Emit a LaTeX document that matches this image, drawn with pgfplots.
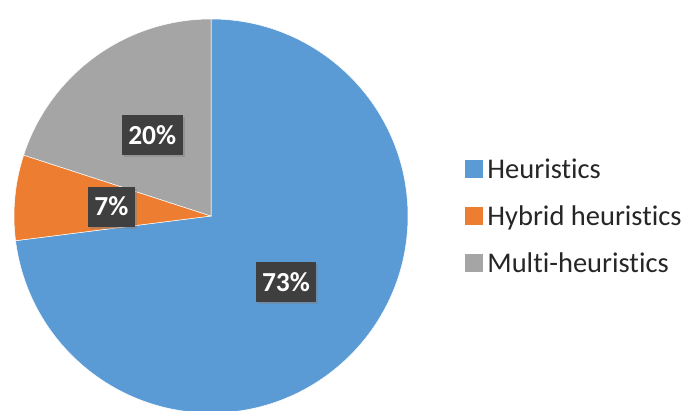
\documentclass[border=0pt]{standalone}
\usepackage{pgfplots}
\usepackage{pgfplotstable}
\usepackage{fontspec}
\setmainfont{Carlito}[Ligatures={NoCommon}]
\pgfplotsset{compat=1.18}
\usetikzlibrary{shadows}
\definecolor{cHeur}{HTML}{5B9BD5}
\definecolor{cHyb}{HTML}{ED7D31}
\definecolor{cMulti}{HTML}{A5A5A5}
\definecolor{lbl}{HTML}{3F3F3F}
\definecolor{legtext}{HTML}{262626}
\pgfplotstableread{
name value
Heuristics 73
Hybrid 7
Multi 20
}\piedata
\begin{document}
\begin{tikzpicture}
\begin{axis}[
  x=1pt, y=1pt,
  xmin=0, xmax=686, ymin=0, ymax=410,
  hide axis, clip mode=global, clip=true,
  legend style={at={(axis cs:465,250)}, anchor=north west, draw=none, fill=none,
    inner sep=0pt, outer sep=0pt, font=\fontsize{28.5}{28.5}\selectfont, text=legtext,
    /tikz/column sep=5pt, /tikz/row sep=0pt,
    nodes={inner sep=0pt, text height=19pt, text depth=28pt}},
  legend cell align=left,
  legend image code/.code={\fill[#1] (0pt,6pt) rectangle (17pt,23pt);},
]
\addlegendimage{cHeur}
\addlegendentry{Heuristics}
\addlegendimage{cHyb}
\addlegendentry{Hybrid heuristics}
\addlegendimage{cMulti}
\addlegendentry{Multi-heuristics}
\pgfplotsextra{
  \def\cx{211}\def\cy{194}
  \def\cum{0}
  \pgfplotsforeachungrouped \i/\col in {0/cHeur,1/cHyb,2/cMulti}{%
    \pgfplotstablegetelem{\i}{value}\of\piedata
    \let\v\pgfplotsretval
    \pgfmathsetmacro\a{90-3.6*\cum}%
    \pgfmathsetmacro\b{90-3.6*(\cum+\v)}%
    \fill[\col, draw=white, line width=0.5pt] (axis cs:\cx,\cy) -- ++(\a:197pt) arc[start angle=\a, end angle=\b, radius=197pt] -- cycle;
    \pgfmathsetmacro\cum{\cum+\v}%
  }
  \def\cum{0}
  \pgfplotsforeachungrouped \i in {0,1,2}{%
    \pgfplotstablegetelem{\i}{value}\of\piedata
    \let\v\pgfplotsretval
    \pgfmathsetmacro\m{90-3.6*(\cum+\v/2)}%
    \path (axis cs:\cx,\cy) ++(\m:100pt) node[fill=lbl, text=white,
      font=\bfseries\fontsize{27.5}{27.5}\selectfont, inner xsep=6.5pt, inner ysep=0pt,
      minimum height=40pt,
      drop shadow={opacity=0.45, shadow xshift=2pt, shadow yshift=-2pt}] {\v\%};
    \pgfmathsetmacro\cum{\cum+\v}%
  }
}
\end{axis}
\pgfresetboundingbox
\useasboundingbox (0,0) rectangle (686pt,410pt);
\end{tikzpicture}
\end{document}
